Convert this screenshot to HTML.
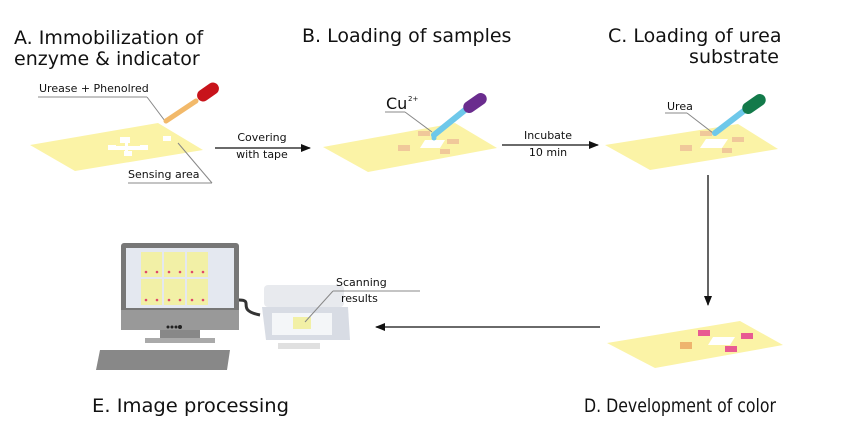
<!DOCTYPE html>
<html><head><meta charset="utf-8"><style>
html,body{margin:0;padding:0;background:#fff}
svg{display:block}
text{font-family:"DejaVu Sans","Liberation Sans",sans-serif;fill:#111}
</style></head><body>
<svg width="843" height="433" viewBox="0 0 843 433" xmlns="http://www.w3.org/2000/svg">
<defs>
<marker id="ah" markerWidth="10" markerHeight="8" refX="9" refY="4" orient="auto" markerUnits="userSpaceOnUse"><path d="M0,0 L10,4 L0,8 Z" fill="#111"/></marker>
</defs>
<text x="14" y="44" font-size="19">A. Immobilization of</text>
<text x="14" y="65" font-size="19">enzyme &amp; indicator</text>
<text x="302" y="42" font-size="19">B. Loading of samples</text>
<text x="608" y="42" font-size="19">C. Loading of urea</text>
<text x="779" y="63" font-size="19" text-anchor="end">substrate</text>
<text x="92" y="412" font-size="19" textLength="197" lengthAdjust="spacingAndGlyphs">E. Image processing</text>
<text x="584" y="412" font-size="19" textLength="192" lengthAdjust="spacingAndGlyphs">D. Development of color</text>

<polygon points="30,145 158,123 203,150 75,171" fill="#fbf3a6"/>
<g fill="#fff">
<rect x="108" y="145" width="8" height="5"/><rect x="120" y="137" width="10" height="6"/><rect x="124" y="151" width="8" height="5"/><rect x="140" y="145" width="8" height="5"/><rect x="113" y="146" width="30" height="4"/><rect x="125" y="140" width="3" height="14"/><rect x="163" y="136" width="8" height="5"/>
</g>
<line x1="38" y1="97" x2="147" y2="97" stroke="#888" stroke-width="1"/>
<line x1="147" y1="97" x2="165" y2="121" stroke="#888"/>
<text x="39" y="92" font-size="11">Urease + Phenolred</text>
<line x1="128" y1="183" x2="212" y2="183" stroke="#888"/>
<line x1="212" y1="183" x2="178" y2="143" stroke="#888"/>
<text x="128" y="178" font-size="11">Sensing area</text>
<line x1="166" y1="121" x2="196" y2="101" stroke="#f2b96a" stroke-width="5" stroke-linecap="round"/>
<rect x="196" y="86" width="24" height="12" rx="6" transform="rotate(-35 208 92)" fill="#c8141b"/>

<line x1="215" y1="148" x2="310" y2="148" stroke="#111" stroke-width="1.3" marker-end="url(#ah)"/>
<text x="262" y="141" font-size="11" text-anchor="middle">Covering</text>
<text x="262" y="158" font-size="11" text-anchor="middle">with tape</text>

<polygon points="323,147 455,123 497,148 368,172" fill="#fbf3a6"/>
<g fill="#f0c89a"><rect x="398" y="145" width="12" height="6"/><rect x="418" y="131" width="12" height="5"/><rect x="447" y="139" width="12" height="5"/><rect x="440" y="149" width="10" height="5"/></g>
<polygon points="425,140 445,140 440,148 420,148" fill="#fff"/>
<text x="386" y="109" font-size="16">Cu</text><text x="408" y="101" font-size="7">2+</text>
<line x1="385" y1="112" x2="405" y2="112" stroke="#888"/><line x1="405" y1="112" x2="432" y2="132" stroke="#888"/>
<line x1="434" y1="135" x2="465" y2="110" stroke="#6ec8ea" stroke-width="6" stroke-linecap="round"/>
<rect x="462" y="97" width="26" height="12" rx="6" transform="rotate(-35 475 103)" fill="#6a2c8e"/>
<circle cx="434" cy="138" r="2.5" fill="#6ec8ea"/>

<line x1="502" y1="145" x2="598" y2="145" stroke="#111" stroke-width="1.3" marker-end="url(#ah)"/>
<text x="548" y="139" font-size="11" text-anchor="middle">Incubate</text>
<text x="548" y="156" font-size="11" text-anchor="middle">10 min</text>

<polygon points="605,145 738,124 778,149 650,170" fill="#fbf3a6"/>
<g fill="#f0c89a"><rect x="680" y="145" width="12" height="6"/><rect x="700" y="131" width="12" height="5"/><rect x="732" y="137" width="12" height="5"/><rect x="722" y="148" width="10" height="5"/></g>
<polygon points="706,139 728,139 722,148 700,148" fill="#fff"/>
<text x="667" y="110" font-size="11">Urea</text>
<line x1="665" y1="113" x2="687" y2="113" stroke="#888"/><line x1="687" y1="113" x2="713" y2="133" stroke="#888"/>
<line x1="715" y1="133" x2="745" y2="110" stroke="#6ec8ea" stroke-width="6" stroke-linecap="round"/>
<rect x="741" y="98" width="26" height="12" rx="6" transform="rotate(-35 754 104)" fill="#137a4a"/>

<line x1="708" y1="175" x2="708" y2="305" stroke="#111" stroke-width="1.3" marker-end="url(#ah)"/>

<polygon points="607,343 740,321 783,345 655,368" fill="#fbf3a6"/>
<g fill="#e85a92"><rect x="698" y="330" width="12" height="6"/><rect x="741" y="333" width="12" height="6"/><rect x="725" y="346" width="12" height="6"/></g>
<rect x="680" y="342" width="12" height="7" fill="#eeb46e"/>
<polygon points="713,337 735,337 730,345 708,345" fill="#fff"/>

<line x1="600" y1="327" x2="376" y2="327" stroke="#111" stroke-width="1.3" marker-end="url(#ah)"/>

<rect x="121" y="243" width="118" height="87" rx="3" fill="#777"/>
<rect x="126" y="248" width="108" height="60" fill="#e4e8f0"/>
<g fill="#f2f0a6">
<rect x="141" y="252" width="21" height="25"/><rect x="164" y="252" width="21" height="25"/><rect x="187" y="252" width="21" height="25"/>
<rect x="141" y="279" width="21" height="26"/><rect x="164" y="279" width="21" height="26"/><rect x="187" y="279" width="21" height="26"/>
</g>
<g fill="#e04a6a">
<circle cx="146" cy="272" r="1.3"/><circle cx="157" cy="272" r="1.3"/><circle cx="169" cy="272" r="1.3"/><circle cx="180" cy="272" r="1.3"/><circle cx="192" cy="272" r="1.3"/><circle cx="203" cy="272" r="1.3"/>
<circle cx="146" cy="300" r="1.3"/><circle cx="157" cy="300" r="1.3"/><circle cx="169" cy="300" r="1.3"/><circle cx="180" cy="300" r="1.3"/><circle cx="192" cy="300" r="1.3"/><circle cx="203" cy="300" r="1.3"/>
</g>
<rect x="121" y="310" width="118" height="20" fill="#999"/>
<rect x="160" y="330" width="40" height="10" fill="#888"/>
<rect x="145" y="338" width="70" height="5" fill="#aaa"/>
<circle cx="168" cy="327" r="1.5" fill="#222"/><circle cx="172" cy="327" r="1.5" fill="#222"/><circle cx="176" cy="327" r="1.5" fill="#222"/><circle cx="180" cy="327" r="2" fill="#222"/>
<path d="M239,300 C255,300 235,310 260,315" stroke="#333" stroke-width="3" fill="none"/>
<polygon points="100,350 230,350 227,370 96,370" fill="#888"/>
<rect x="264" y="285" width="80" height="22" rx="4" fill="#e8eaee"/>
<polygon points="262,307 348,307 350,340 266,340" fill="#d8dce4"/>
<rect x="272" y="313" width="60" height="22" fill="#f4f6f8"/>
<rect x="293" y="317" width="18" height="12" fill="#f2f0a6"/>
<rect x="278" y="343" width="42" height="6" fill="#e0e0e0"/>
<text x="336" y="286" font-size="11">Scanning</text>
<text x="341" y="302" font-size="11">results</text>
<line x1="333" y1="291" x2="420" y2="291" stroke="#888"/>
<line x1="333" y1="291" x2="305" y2="322" stroke="#888"/>
</svg>
</body></html>
